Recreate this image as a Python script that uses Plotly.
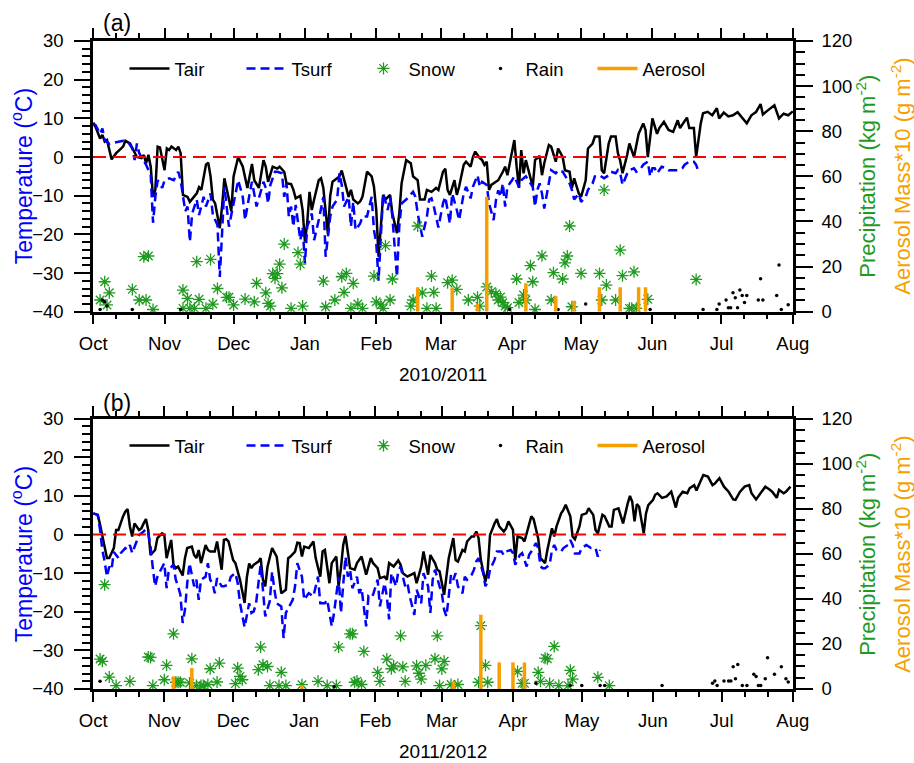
import plotly.graph_objects as go
import pandas as pd

FONT = "Liberation Sans, Arial, Helvetica, sans-serif"
GREEN = "#1f9a1f"
ORANGE = "#f5a000"

# ---------------- panel (a) 2010/2011 : (day since 1 Oct, value) ----------------
start_a, end_a = "2010-10-01", "2011-08-01"
tair_a = [(0,8.9),(1,7.8),(3,4.8),(4,5.7),(5,4.0),(6,4.4),(8,-0.6),(10,1.0),(13,2.7),(14,4.2),(16,3.5),(17,2.2),(19,0.0),(21,-0.3),(22,0.5),(23,-1.6),(24,0.6),(25,-2.5),(26,-10.3),(27,-8.5),(28,2.7),(29,2.5),(31,-3.4),(32,2.2),(33,1.8),(34,2.7),(36,1.8),(37,2.7),(38,1.0),(39,-9.8),(41,-10.3),(42,-11.6),(44,-10.3),(45,-9.4),(46,-7.8),(47,-8.5),(49,-2.0),(50,-1.5),(51,-5.0),(52,-11.0),(53,-12.0),(55,-18.4),(56,-12.8),(57,-5.5),(59,-11.0),(60,-14.0),(61,-5.0),(63,0.0),(65,-2.5),(67,-8.0),(69,-1.8),(70,-6.0),(72,-8.0),(74,-0.8),(75,-2.5),(76,-6.4),(78,-2.5),(80,-3.0),(81,-2.5),(83,-3.8),(84,-6.8),(86,-7.0),(87,-8.5),(88,-10.7),(90,-10.0),(91,-13.7),(92,-21.9),(93,-17.0),(94,-9.0),(95,-13.7),(96,-11.0),(98,-6.0),(99,-5.5),(100,-8.0),(102,-20.0),(103,-10.0),(104,-6.4),(106,-5.5),(107,-5.0),(108,-3.5),(109,-6.0),(111,-10.3),(112,-8.5),(113,-11.0),(115,-12.0),(116,-11.5),(117,-10.3),(119,-3.8),(121,-5.0),(122,-7.7),(123,-13.7),(124,-25.8),(125,-18.0),(126,-9.8),(127,-11.0),(129,-9.8),(130,-14.6),(132,-19.7),(133,-14.6),(134,-6.8),(136,-0.8),(138,-1.6),(139,-5.0),(141,-6.0),(142,-11.0),(144,-11.0),(145,-8.5),(147,-9.0),(149,-8.0),(150,-8.5),(152,-3.8),(153,-3.0),(154,-8.5),(155,-9.8),(157,-6.0),(158,-9.8),(159,-7.7),(161,-2.0),(162,-1.2),(164,-2.5),(165,0.0),(166,1.4),(168,-0.3),(169,-0.8),(170,-2.0),(171,-1.2),(172,-8.5),(173,-7.2),(175,-6.4),(176,-6.0),(178,-3.8),(179,-2.5),(180,-4.7),(182,1.4),(183,4.4),(184,-2.5),(185,-8.0),(186,1.8),(187,-4.2),(188,-0.8),(190,-5.0),(191,-7.7),(192,-0.8),(194,0.3),(195,-4.7),(196,-1.6),(198,3.1),(199,2.7),(201,-1.2),(202,2.2),(204,0.0),(205,-3.4),(207,-3.8),(208,-8.0),(209,-5.5),(211,-9.4),(212,-10.3),(214,-6.0),(215,2.2),(217,3.5),(218,5.3),(220,5.3),(221,-3.4),(222,-4.2),(224,3.5),(225,5.3),(227,5.3),(228,1.0),(229,-1.0),(230,-4.2),(232,0.5),(233,3.5),(235,0.0),(237,6.0),(239,8.7),(240,7.0),(241,0.0),(243,10.0),(245,6.0),(246,7.5),(248,9.1),(250,7.0),(252,6.5),(254,9.5),(255,7.5),(258,10.2),(259,7.5),(261,7.5),(262,0.0),(264,8.7),(265,11.3),(267,11.7),(269,10.8),(271,12.6),(272,10.0),(274,11.5),(276,10.5),(278,10.8),(280,11.6),(282,10.0),(284,8.7),(286,10.8),(288,11.6),(290,13.7),(291,11.0),(293,12.0),(296,13.4),(298,10.0),(300,11.2),(302,10.8),(304,11.8)]
tsurf_a = [(0,8.5),(1,8.3),(3,6.0),(4,7.4),(5,4.4),(7,3.4),(9,3.7),(11,4.0),(13,4.2),(15,4.0),(17,2.2),(18,-0.8),(19,3.5),(20,1.0),(22,-1.2),(23,-2.0),(25,-4.7),(26,-17.0),(27,-10.3),(28,-6.0),(30,-8.0),(31,-6.0),(33,-5.5),(35,-6.0),(37,-3.8),(38,-6.0),(40,-14.0),(41,-12.8),(42,-21.9),(43,-14.6),(45,-11.0),(46,-15.0),(48,-10.3),(49,-12.8),(51,-9.4),(52,-15.0),(54,-17.6),(55,-31.0),(56,-19.7),(57,-7.7),(59,-18.0),(60,-15.0),(62,-9.0),(63,-6.0),(65,-10.3),(66,-16.3),(68,-9.4),(69,-6.4),(71,-12.8),(72,-10.7),(74,-6.4),(75,-8.0),(76,-12.0),(77,-7.2),(79,-3.8),(80,-3.8),(82,-4.2),(83,-10.3),(84,-6.8),(85,-15.4),(86,-12.8),(87,-18.0),(88,-12.4),(90,-21.5),(91,-18.0),(92,-27.5),(93,-18.0),(95,-14.6),(96,-21.5),(98,-16.3),(99,-13.7),(100,-10.3),(101,-25.8),(103,-15.4),(104,-12.8),(106,-11.0),(107,-4.2),(108,-7.2),(109,-12.8),(111,-10.3),(112,-18.0),(113,-11.6),(114,-18.9),(116,-17.2),(117,-15.4),(119,-15.4),(120,-12.8),(121,-10.3),(122,-18.9),(123,-22.3),(124,-32.0),(125,-20.0),(126,-9.4),(128,-13.7),(129,-10.3),(130,-15.4),(132,-31.0),(133,-18.0),(134,-12.0),(136,-11.0),(137,-10.3),(139,-9.0),(140,-10.3),(141,-14.6),(143,-20.6),(145,-15.4),(146,-11.0),(147,-10.7),(148,-12.8),(150,-18.2),(152,-12.0),(153,-10.3),(155,-17.2),(156,-9.4),(158,-13.7),(159,-16.3),(161,-9.4),(162,-7.7),(164,-10.7),(165,-7.7),(167,-4.7),(168,-7.7),(169,-6.4),(171,-7.2),(172,-12.0),(174,-16.3),(175,-11.2),(176,-8.6),(177,-10.3),(178,-6.8),(179,-12.8),(180,-7.7),(182,-6.0),(183,-5.0),(185,-7.7),(186,-6.0),(188,-5.0),(189,-6.0),(191,-7.7),(192,-12.8),(193,-8.5),(194,-6.8),(195,-9.4),(196,-13.3),(198,-6.0),(199,-3.4),(201,-4.2),(202,-3.4),(204,-3.8),(205,-4.7),(207,-6.8),(208,-8.5),(209,-11.0),(211,-9.4),(212,-11.6),(214,-10.3),(215,-8.5),(217,-6.8),(218,-5.0),(220,-4.7),(221,-5.0),(222,-5.5),(224,-4.7),(225,-3.8),(227,-4.2),(228,-3.4),(229,-4.2),(230,-7.2),(232,-4.3),(233,-3.4),(235,-2.9),(236,-3.8),(238,-2.9),(239,-2.0),(241,-1.2),(242,-5.0),(243,-2.9),(244,-2.9),(245,-4.2),(247,-2.5),(249,-2.9),(250,-3.4),(252,-3.4),(254,-3.4),(256,-2.9),(257,-2.0),(259,-1.2),(261,-1.2),(262,-2.0),(263,-3.8)]
snow_a = [(3,5.2),(5,13.3),(6,3.0),(7,8.4),(17,9.9),(20,5.2),(22,24.4),(23,5.2),(24,24.7),(26,1.0),(39,9.6),(39,1.5),(41,5.9),(42,1.5),(44,1.5),(45,22.2),(46,5.5),(49,1.5),(51,23.2),(52,3.4),(54,10.3),(58,6.4),(59,6.4),(61,3.0),(66,5.6),(70,4.4),(71,12.6),(75,8.4),(76,3.7),(77,2.5),(78,16.9),(79,14.8),(80,16.9),(81,21.1),(82,10.6),(83,30.0),(86,1.5),(89,26.2),(90,21.1),(91,2.5),(100,13.6),(101,2.2),(105,5.2),(108,15.5),(109,8.6),(110,17.0),(112,1.5),(113,12.6),(115,3.4),(117,1.5),(122,15.8),(123,4.4),(125,3.0),(126,1.5),(127,29.3),(129,5.2),(130,14.5),(138,2.5),(139,5.2),(141,38.0),(143,8.4),(145,1.5),(147,15.8),(148,8.6),(149,1.5),(154,12.9),(156,14.0),(158,9.9),(163,5.2),(167,6.4),(168,2.5),(171,11.0),(173,8.9),(175,8.0),(176,5.2),(177,6.5),(178,4.0),(179,2.5),(180,1.8),(184,14.5),(185,4.1),(187,7.4),(188,5.2),(190,20.4),(191,13.3),(192,1.0),(195,24.8),(199,5.2),(200,17.3),(204,14.5),(205,21.7),(206,24.7),(207,38.0),(208,2.2),(212,17.0),(220,17.0),(221,5.2),(222,54.0),(223,11.8),(227,5.2),(229,27.3),(230,16.0),(233,1.5),(234,1.5),(235,17.7),(236,1.5),(241,5.5),(262,14.3)]
rain_a = [(3,1.0),(4,5.2),(5,4.4),(6,2.5),(17,1.0),(38,1.0),(181,1.0),(202,1.0),(214,3.4),(242,1.0),(265,1.0),(271,1.0),(272,3.4),(275,5.2),(276,1.8),(277,1.8),(278,8.4),(279,6.2),(280,1.8),(281,9.6),(282,7.2),(283,4.1),(284,7.2),(289,5.2),(290,14.6),(291,5.2),(297,7.2),(298,20.7),(299,1.0),(302,3.1)]
aer_a_days = [141, 156, 167, 171, 188, 201, 209, 220, 229, 237, 240]
aer_a_vals = [10.8, 10.8, 3.4, 51.0, 12.6, 6.9, 4.9, 10.8, 10.8, 10.8, 10.8]

# ---------------- panel (b) 2011/2012 ----------------
start_b, end_b = "2011-10-01", "2012-08-01"
tair_b = [(0,5.5),(2,5.1),(3,2.5),(5,-3.5),(6,-6.1),(7,-6.1),(9,-3.5),(10,1.2),(11,1.2),(13,4.7),(14,5.9),(15,6.6),(16,2.1),(17,-0.5),(18,2.9),(20,1.2),(21,1.6),(22,2.9),(23,4.0),(24,1.2),(25,-5.3),(27,-4.0),(28,-0.9),(30,0.3),(31,-0.1),(32,-6.1),(33,-4.0),(34,-1.4),(35,-7.8),(36,-8.7),(37,-8.3),(39,-10.6),(40,-6.1),(41,-3.5),(43,-3.1),(44,-5.3),(45,-6.1),(46,-4.0),(47,-7.4),(49,-2.7),(50,-4.0),(51,-4.4),(53,-4.4),(54,-1.8),(56,-9.1),(57,-1.4),(58,-1.2),(59,-1.8),(61,-6.6),(62,-7.4),(64,-11.7),(65,-14.5),(66,-17.7),(67,-11.0),(68,-7.5),(69,-8.7),(70,-7.8),(72,-7.0),(73,-6.1),(74,-11.7),(75,-13.4),(76,-8.3),(78,-3.5),(80,-5.7),(81,-10.9),(82,-15.2),(84,-14.3),(85,-6.1),(86,-5.7),(88,-4.4),(89,-2.1),(90,-2.2),(91,-5.7),(92,-3.1),(94,-3.5),(95,-2.7),(96,-1.8),(97,-6.1),(99,-10.9),(100,-4.4),(101,-4.0),(103,-12.6),(104,-7.4),(106,-5.7),(107,-13.4),(108,-8.7),(109,-2.7),(110,-0.3),(111,-4.0),(112,-8.7),(114,-9.1),(115,-7.4),(117,-5.7),(118,-8.3),(119,-10.4),(121,-6.1),(122,-7.4),(124,-8.7),(125,-11.3),(127,-10.9),(128,-11.7),(129,-7.4),(131,-8.3),(133,-6.7),(134,-7.8),(135,-10.0),(137,-10.9),(138,-10.6),(140,-10.0),(141,-12.6),(143,-8.3),(144,-4.4),(146,-10.4),(147,-5.3),(149,-7.4),(150,-9.1),(151,-9.5),(153,-15.6),(155,-6.1),(157,-0.9),(158,-6.6),(159,-7.0),(161,-4.0),(162,-4.4),(163,-1.8),(165,-0.5),(166,-0.5),(167,0.8),(168,-0.9),(169,-6.6),(171,-12.2),(172,-9.1),(173,-0.1),(175,2.9),(176,4.0),(177,2.1),(179,0.8),(180,1.6),(181,3.4),(183,1.2),(184,-6.6),(185,-0.5),(187,-0.9),(188,-1.8),(190,2.9),(191,4.7),(192,4.0),(194,-1.0),(195,-6.1),(197,-7.4),(198,-4.0),(200,1.6),(201,-0.5),(202,2.1),(204,5.5),(205,6.4),(206,7.7),(208,4.7),(209,-0.5),(210,-1.2),(212,2.1),(213,5.1),(215,5.5),(216,6.8),(218,5.1),(219,1.2),(220,0.3),(222,5.1),(223,4.7),(225,2.1),(226,2.1),(227,6.4),(229,6.8),(231,2.9),(233,8.0),(234,10.0),(235,8.5),(236,3.4),(237,7.9),(238,7.2),(240,0.3),(241,5.5),(242,7.6),(244,8.9),(245,10.3),(246,10.7),(248,9.5),(250,9.9),(252,11.1),(254,7.0),(255,9.5),(257,11.1),(259,10.7),(260,12.0),(262,12.8),(263,11.4),(265,14.1),(266,15.4),(268,15.0),(270,12.8),(271,13.2),(273,14.6),(275,12.4),(277,11.1),(279,9.1),(280,9.0),(282,11.1),(284,12.4),(286,12.8),(287,10.7),(289,9.1),(291,10.7),(293,12.4),(295,11.6),(296,11.1),(298,9.5),(299,11.6),(301,10.7),(302,11.1),(304,12.4)]
tsurf_b = [(0,5.5),(2,5.1),(3,1.2),(4,-4.0),(5,-7.0),(6,-10.9),(7,-8.3),(8,-9.1),(9,-4.5),(11,-6.1),(12,-4.8),(14,-3.5),(15,-3.9),(16,-2.7),(17,-4.8),(19,-1.4),(20,-0.1),(22,0.8),(23,1.4),(24,0.3),(25,-3.1),(26,-8.7),(27,-13.4),(28,-10.9),(30,-8.3),(31,-7.4),(32,-13.9),(33,-9.1),(35,-7.8),(36,-11.7),(37,-13.4),(38,-15.5),(39,-22.9),(40,-19.5),(41,-12.6),(42,-7.4),(43,-10.4),(44,-13.4),(45,-11.7),(46,-16.9),(47,-11.7),(49,-10.9),(50,-7.4),(51,-11.7),(52,-12.6),(53,-15.2),(54,-11.3),(56,-13.4),(57,-13.4),(59,-13.0),(60,-10.9),(62,-10.0),(63,-12.6),(64,-17.8),(66,-24.0),(67,-20.3),(68,-17.8),(69,-20.3),(70,-19.9),(71,-17.8),(72,-12.6),(73,-7.8),(74,-14.3),(75,-21.2),(77,-17.2),(78,-9.6),(79,-14.3),(80,-17.8),(82,-18.6),(83,-26.8),(84,-20.3),(86,-18.1),(87,-16.9),(88,-13.4),(89,-7.4),(91,-10.9),(92,-16.9),(93,-16.0),(94,-15.2),(96,-16.0),(97,-13.4),(98,-10.9),(99,-17.8),(101,-17.8),(102,-16.9),(104,-23.8),(105,-20.3),(106,-16.0),(107,-10.9),(108,-20.3),(109,-13.4),(110,-5.7),(111,-10.9),(112,-9.1),(113,-13.9),(115,-10.9),(116,-15.2),(117,-13.9),(119,-23.8),(120,-16.0),(121,-16.4),(122,-15.6),(124,-11.7),(125,-18.6),(127,-12.6),(128,-16.0),(129,-22.0),(130,-10.0),(132,-13.4),(133,-9.6),(134,-8.3),(136,-13.4),(137,-12.6),(138,-16.0),(140,-20.8),(141,-14.3),(143,-17.8),(144,-10.0),(146,-13.4),(147,-20.3),(148,-11.7),(149,-9.1),(151,-13.4),(152,-15.2),(153,-19.5),(154,-21.2),(155,-16.0),(156,-10.4),(157,-11.7),(158,-10.0),(159,-13.4),(161,-15.2),(162,-10.9),(163,-11.7),(165,-10.4),(166,-9.1),(167,-7.0),(168,-6.1),(170,-9.9),(171,-13.4),(172,-12.2),(173,-9.1),(175,-6.5),(176,-4.4),(178,-4.4),(179,-5.3),(180,-4.4),(182,-4.0),(183,-4.8),(184,-7.8),(186,-5.3),(187,-4.8),(188,-6.5),(189,-8.3),(190,-5.3),(191,-4.4),(193,-2.2),(194,-3.5),(195,-8.3),(196,-8.7),(197,-8.7),(199,-7.8),(200,-4.0),(201,-2.7),(202,-4.0),(204,-4.4),(205,-3.5),(207,-2.7),(208,-1.4),(209,-2.7),(210,-4.9),(212,-4.9),(213,-3.5),(215,-2.7),(216,-3.1),(217,-3.5),(219,-3.5),(220,-5.7),(221,-4.0)]
snow_b = [(3,13.3),(4,12.3),(5,46.3),(7,5.3),(10,1.5),(16,3.4),(24,14.2),(25,14.0),(26,1.5),(31,4.1),(32,10.5),(35,24.5),(36,3.0),(37,3.0),(38,3.0),(42,2.7),(43,13.4),(45,1.5),(47,1.5),(48,1.5),(50,2.0),(51,9.0),(54,3.1),(55,11.5),(62,2.4),(63,9.3),(64,5.6),(65,4.1),(72,8.6),(73,18.6),(74,10.8),(76,10.0),(77,1.5),(81,1.5),(82,7.4),(84,1.5),(91,1.9),(98,3.4),(102,1.5),(106,1.5),(107,18.6),(112,24.5),(113,24.5),(114,3.0),(115,3.5),(117,2.0),(118,16.7),(124,7.4),(125,3.4),(128,13.3),(130,9.0),(131,10.3),(134,23.6),(135,9.8),(136,3.4),(141,10.3),(142,7.0),(143,4.4),(145,10.5),(149,13.4),(150,23.6),(151,1.5),(152,8.9),(153,12.3),(156,2.0),(159,2.0),(168,3.0),(169,28.1),(171,10.5),(172,3.0),(185,7.8),(187,2.5),(188,2.5),(194,7.4),(195,3.4),(197,13.7),(198,13.4),(199,2.4),(201,18.9),(203,1.5),(207,1.5),(208,8.3),(209,4.4),(220,5.2),(225,1.5)]
rain_b = [(3,3.4),(105,1.0),(193,2.5),(208,1.6),(213,1.5),(221,1.6),(223,1.6),(248,1.6),(270,2.5),(271,3.5),(272,1.6),(275,3.5),(277,3.5),(278,3.5),(279,9.9),(280,4.6),(281,10.9),(283,1.6),(285,1.6),(288,6.5),(289,5.5),(290,1.6),(291,1.6),(293,4.6),(294,13.9),(297,6.5),(300,9.9),(302,4.6),(303,3.1)]
aer_b_days = [35, 43, 91, 157, 169, 177, 183, 188]
aer_b_vals = [5.6, 9.3, 1.7, 3.4, 33.0, 11.8, 11.8, 11.8]

month_labels = ["Oct", "Nov", "Dec", "Jan", "Feb", "Mar", "Apr", "May", "Jun", "Jul", "Aug"]
panel_labels = ["(a)", "(b)"]
season_labels = ["2010/2011", "2011/2012"]


def to_dates(start, days):
    s = pd.Timestamp(start)
    return [s + pd.Timedelta(days=d) for d in days]


fig = go.Figure()


def add_panel(start, tair, tsurf, snow, rain, aer_days, aer_vals, xa, ya, ya2, leg):
    d, v = zip(*tair)
    fig.add_trace(go.Scatter(x=to_dates(start, d), y=v, mode="lines", name="Tair",
                             line=dict(color="black", width=2.5), xaxis=xa, yaxis=ya, legend=leg))
    d, v = zip(*tsurf)
    fig.add_trace(go.Scatter(x=to_dates(start, d), y=v, mode="lines", name="Tsurf",
                             line=dict(color="blue", width=2.5, dash="9px,5px"), xaxis=xa, yaxis=ya, legend=leg))
    d, v = zip(*snow)
    fig.add_trace(go.Scatter(x=to_dates(start, d), y=v, mode="markers", name="Snow",
                             marker=dict(symbol="asterisk-open", size=10, color=GREEN, line=dict(color=GREEN, width=1.3)),
                             xaxis=xa, yaxis=ya2, legend=leg))
    d, v = zip(*rain)
    fig.add_trace(go.Scatter(x=to_dates(start, d), y=v, mode="markers", name="Rain",
                             marker=dict(symbol="circle", size=3.5, color="black"),
                             xaxis=xa, yaxis=ya2, legend=leg))
    ax, ay = [], []
    for t, val in zip(to_dates(start, aer_days), aer_vals):
        ax += [t, t, None]
        ay += [0, val, None]
    fig.add_trace(go.Scatter(x=ax, y=ay, mode="lines", name="Aerosol",
                             line=dict(color=ORANGE, width=3.5), xaxis=xa, yaxis=ya2, legend=leg))


add_panel(start_a, tair_a, tsurf_a, snow_a, rain_a, aer_a_days, aer_a_vals, "x", "y", "y2", "legend")
add_panel(start_b, tair_b, tsurf_b, snow_b, rain_b, aer_b_days, aer_b_vals, "x2", "y3", "y4", "legend2")


def minor_ticks(start, end):
    vals = []
    for m in pd.date_range(start, end, freq="MS")[:-1]:
        vals += [m + pd.Timedelta(days=10), m + pd.Timedelta(days=20)]
    return vals


TICKFONT = dict(family=FONT, size=18.5, color="black")


def xaxis_cfg(start, end, anchor):
    return dict(
        range=[pd.Timestamp(start) - pd.Timedelta(hours=2), pd.Timestamp(end) + pd.Timedelta(hours=2)],
        tickmode="array", tickvals=list(pd.date_range(start, end, freq="MS")), ticktext=month_labels,
        showline=True, linecolor="black", linewidth=2.5, mirror="ticks",
        ticks="outside", ticklen=10, tickwidth=2, tickcolor="black",
        minor=dict(tickmode="array", tickvals=minor_ticks(start, end), ticks="outside",
                   ticklen=5, tickwidth=1.5, tickcolor="black"),
        showgrid=False, zeroline=False, anchor=anchor, ticklabelstandoff=3,
        tickfont=TICKFONT,
    )


def yleft_cfg(domain, anchor):
    return dict(
        range=[-40, 30], tick0=0, dtick=10, domain=domain, anchor=anchor,
        showline=True, linecolor="black", linewidth=2.5,
        ticks="outside", ticklen=16, tickwidth=2, tickcolor="black",
        minor=dict(dtick=2, ticks="outside", ticklen=8, tickwidth=1.5, tickcolor="black"),
        showgrid=False, zeroline=False, ticklabelstandoff=7,
        tickfont=TICKFONT,
    )


def yright_cfg(overlay, anchor):
    return dict(
        range=[0, 120], tick0=0, dtick=20, overlaying=overlay, side="right", anchor=anchor,
        showline=True, linecolor="black", linewidth=2.5,
        ticks="outside", ticklen=17, tickwidth=2, tickcolor="black",
        minor=dict(dtick=5, ticks="outside", ticklen=9, tickwidth=1.5, tickcolor="black"),
        showgrid=False, zeroline=False, ticklabelstandoff=5,
        tickfont=TICKFONT,
    )


dom_a = [0.5822, 1.0]
dom_b = [0.0, 0.4171]

legend_common = dict(orientation="h", xanchor="left", yanchor="middle", bgcolor="rgba(0,0,0,0)",
                     font=dict(family=FONT, size=18.5, color="black"), entrywidth=62,
                     entrywidthmode="pixels", itemwidth=40, traceorder="normal")

fig.update_layout(
    width=914, height=763,
    margin=dict(l=93, r=121, t=41, b=74),
    paper_bgcolor="white", plot_bgcolor="white",
    font=dict(family=FONT, size=18, color="black"),
    showlegend=True,
    xaxis=xaxis_cfg(start_a, end_a, "y"),
    xaxis2=xaxis_cfg(start_b, end_b, "y3"),
    yaxis=yleft_cfg(dom_a, "x"),
    yaxis2=yright_cfg("y", "x"),
    yaxis3=yleft_cfg(dom_b, "x2"),
    yaxis4=yright_cfg("y3", "x2"),
    legend=dict(legend_common, x=0.045, y=0.957),
    legend2=dict(legend_common, x=0.045, y=0.375),
)

# zero-degree reference lines
for xr, yr in [("x domain", "y"), ("x2 domain", "y3")]:
    fig.add_shape(type="line", xref=xr, yref=yr, x0=0, x1=1, y0=0, y1=0,
                  line=dict(color="red", width=2, dash="13px,7px"))

ann = []
for lab, ypos in zip(panel_labels, [1.028, 0.441]):
    ann.append(dict(text=lab, x=0.011, y=ypos, xref="paper", yref="paper", xanchor="left",
                    yanchor="middle", showarrow=False, font=dict(family=FONT, size=23, color="black")))
for lab, ypos in zip(season_labels, [0.4846, -0.097]):
    ann.append(dict(text=lab, x=0.5, y=ypos, xref="paper", yref="paper", xanchor="center",
                    yanchor="middle", showarrow=False, font=dict(family=FONT, size=19, color="black")))
for ycen in [0.7917, 0.2083]:
    ann.append(dict(text="Temperature (<sup>o</sup>C)", x=-0.101, y=ycen, xref="paper", yref="paper",
                    textangle=-90, showarrow=False, xanchor="center", yanchor="middle",
                    font=dict(family=FONT, size=23, color="blue")))
    ann.append(dict(text="Precipitation (kg m<sup>-2</sup>)", x=1.104, y=ycen, xref="paper", yref="paper",
                    textangle=-90, showarrow=False, xanchor="center", yanchor="middle",
                    font=dict(family=FONT, size=22, color=GREEN)))
    ann.append(dict(text="Aerosol Mass*10 (g m<sup>-2</sup>)", x=1.154, y=ycen, xref="paper", yref="paper",
                    textangle=-90, showarrow=False, xanchor="center", yanchor="middle",
                    font=dict(family=FONT, size=22, color=ORANGE)))
fig.update_layout(annotations=ann)

fig.write_html("out.html", config={"displayModeBar": False},
               post_script="document.body.style.margin='0px';")
